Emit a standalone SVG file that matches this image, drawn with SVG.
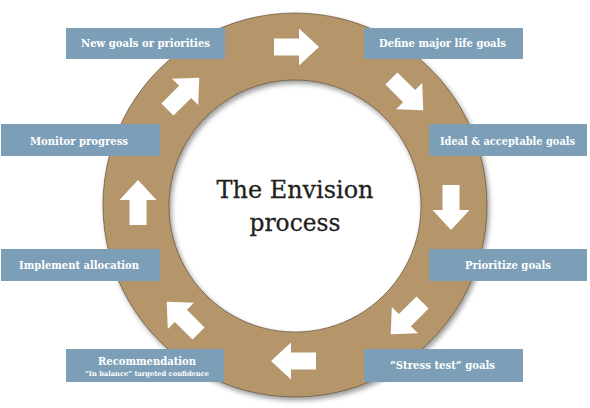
<svg xmlns="http://www.w3.org/2000/svg" xmlns:xlink="http://www.w3.org/1999/xlink" width="590" height="408" viewBox="0 0 590 408">
<defs>
<filter id="sh" x="-20%" y="-20%" width="140%" height="140%">
<feDropShadow dx="2" dy="3" stdDeviation="2.5" flood-color="#000" flood-opacity="0.4"/>
</filter>
<path id="arr" d="M-22,-8.5 L3,-8.5 L3,-18.5 L23,0 L3,18.5 L3,8.5 L-22,8.5 Z" fill="#ffffff"/>
<style>
.box{fill:#7C9FB7}
.lbl{font-family:"DejaVu Serif","Liberation Serif",serif;font-weight:bold;font-size:11px;fill:#ffffff;text-anchor:middle}
.sub{font-family:"DejaVu Serif","Liberation Serif",serif;font-weight:bold;font-size:7px;fill:#ffffff;text-anchor:middle}
.title{font-family:"DejaVu Serif","Liberation Serif",serif;font-size:25px;fill:#231f1c;text-anchor:middle;stroke:#231f1c;stroke-width:0.3}
</style>
</defs>
<rect width="590" height="408" fill="#ffffff"/>
<g id="ring">
<path d="M295,13 A192,192 0 1 1 294.99,13 Z M295,80 A126,126 0 1 0 295.01,80 Z" fill="#B5966A" fill-rule="evenodd" stroke="#5e4c33" stroke-width="0.7" filter="url(#sh)"/>
</g>
<g id="connectors">
<use xlink:href="#arr" transform="translate(296,47)"/>
<use xlink:href="#arr" transform="translate(407,94) rotate(45)"/>
<use xlink:href="#arr" transform="translate(451,207) rotate(90)"/>
<use xlink:href="#arr" transform="translate(407,318) rotate(135)"/>
<use xlink:href="#arr" transform="translate(294,361) rotate(180)"/>
<use xlink:href="#arr" transform="translate(183,318) rotate(225)"/>
<use xlink:href="#arr" transform="translate(138,203) rotate(270)"/>
<use xlink:href="#arr" transform="translate(183,94) rotate(315)"/>
</g>
<g id="title">
<text class="title" x="295" y="198" textLength="157" lengthAdjust="spacingAndGlyphs">The Envision</text>
<text class="title" x="295" y="231" textLength="91" lengthAdjust="spacingAndGlyphs">process</text>
</g>
<g id="n-new">
<rect class="box" x="66" y="28" width="159" height="31"/>
<text class="lbl" x="145.5" y="47" textLength="129" lengthAdjust="spacingAndGlyphs">New goals or priorities</text>
</g>
<g id="n-define">
<rect class="box" x="364" y="28" width="159" height="31"/>
<text class="lbl" x="442.5" y="47" textLength="127" lengthAdjust="spacingAndGlyphs">Define major life goals</text>
</g>
<g id="n-monitor">
<rect class="box" x="1" y="124" width="159" height="32"/>
<text class="lbl" x="79" y="145" textLength="98" lengthAdjust="spacingAndGlyphs">Monitor progress</text>
</g>
<g id="n-ideal">
<rect class="box" x="429" y="124" width="158" height="32"/>
<text class="lbl" x="507.5" y="145" textLength="135" lengthAdjust="spacingAndGlyphs">Ideal &amp; acceptable goals</text>
</g>
<g id="n-implement">
<rect class="box" x="1" y="249" width="159" height="32"/>
<text class="lbl" x="79" y="269" textLength="120" lengthAdjust="spacingAndGlyphs">Implement allocation</text>
</g>
<g id="n-prioritize">
<rect class="box" x="429" y="249" width="158" height="32"/>
<text class="lbl" x="508" y="269" textLength="86" lengthAdjust="spacingAndGlyphs">Prioritize goals</text>
</g>
<g id="n-recommend">
<rect class="box" x="66" y="349" width="158" height="33"/>
<text class="lbl" x="147" y="365" textLength="98" lengthAdjust="spacingAndGlyphs">Recommendation</text>
<text class="sub" x="147" y="376" textLength="124" lengthAdjust="spacingAndGlyphs">“In balance” targeted confidence</text>
</g>
<g id="n-stress">
<rect class="box" x="364" y="349" width="159" height="33"/>
<text class="lbl" x="442.5" y="369" textLength="105" lengthAdjust="spacingAndGlyphs">“Stress test” goals</text>
</g>
</svg>
